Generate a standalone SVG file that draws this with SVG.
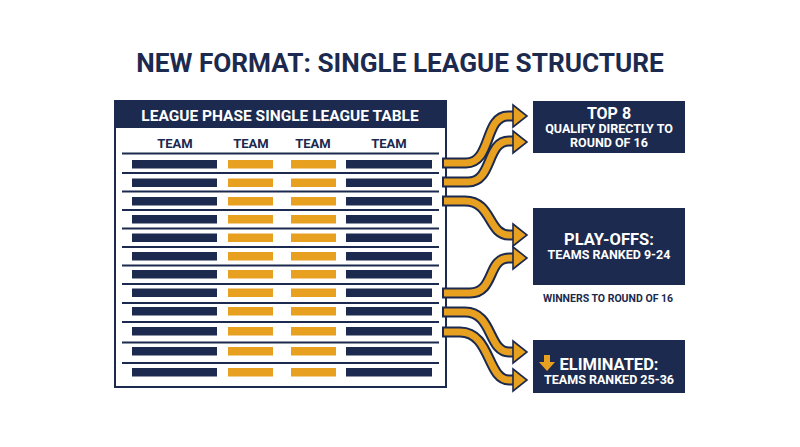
<svg xmlns="http://www.w3.org/2000/svg" width="800" height="447" viewBox="0 0 800 447">
<style>
.navy{fill:#1b2a4e}
.or{fill:#e8a021}
.t{font-family:Roboto,"Liberation Sans",sans-serif;font-weight:bold;text-anchor:middle}
.w{fill:#fff}
.sep{stroke:#1b2a4e;stroke-width:2}
.sh-o{fill:none;stroke:#1b2a4e;stroke-width:11;stroke-linecap:butt}
.sh-i{fill:none;stroke:#e8a021;stroke-width:7;stroke-linecap:butt}
.hd{fill:#e8a021;stroke:#1b2a4e;stroke-width:1.6;stroke-linejoin:miter}
</style>
<defs>
<g id="row">
<rect x="132" y="0" width="85" height="8.5" class="navy"/>
<rect x="228" y="0" width="45" height="8.5" class="or"/>
<rect x="291" y="0" width="45" height="8.5" class="or"/>
<rect x="346" y="0" width="86" height="8.5" class="navy"/>
</g>
</defs>
<rect width="800" height="447" fill="#fff"/>
<text class="t" x="400" y="72" font-size="26.2" fill="#1b2a4e">NEW FORMAT: SINGLE LEAGUE STRUCTURE</text>

<g id="league-table">
<rect x="115" y="101" width="331" height="286" fill="#fff" stroke="#1b2a4e" stroke-width="2"/>
<rect x="115" y="101" width="331" height="27" class="navy"/>
<text class="t w" x="280" y="121" font-size="15.5">LEAGUE PHASE SINGLE LEAGUE TABLE</text>
<text class="t" x="175" y="148" font-size="13" fill="#1b2a4e">TEAM</text>
<text class="t" x="251" y="148" font-size="13" fill="#1b2a4e">TEAM</text>
<text class="t" x="313" y="148" font-size="13" fill="#1b2a4e">TEAM</text>
<text class="t" x="389" y="148" font-size="13" fill="#1b2a4e">TEAM</text>
<g class="sep">
<line x1="122" y1="153.5" x2="439" y2="153.5"/>
<line x1="122" y1="173" x2="439" y2="173"/>
<line x1="122" y1="191.5" x2="439" y2="191.5"/>
<line x1="122" y1="210" x2="439" y2="210"/>
<line x1="122" y1="228.5" x2="439" y2="228.5"/>
<line x1="122" y1="247" x2="439" y2="247"/>
<line x1="122" y1="265.5" x2="439" y2="265.5"/>
<line x1="122" y1="284" x2="439" y2="284"/>
<line x1="122" y1="303" x2="439" y2="303"/>
<line x1="122" y1="322" x2="439" y2="322"/>
<line x1="122" y1="342.5" x2="439" y2="342.5"/>
<line x1="122" y1="363" x2="439" y2="363"/>
</g>
<use href="#row" y="160"/>
<use href="#row" y="178.5"/>
<use href="#row" y="197"/>
<use href="#row" y="215"/>
<use href="#row" y="233.5"/>
<use href="#row" y="252"/>
<use href="#row" y="270"/>
<use href="#row" y="288.5"/>
<use href="#row" y="307"/>
<use href="#row" y="327"/>
<use href="#row" y="347"/>
<use href="#row" y="368"/>
</g>

<g id="connectors">
<path class="sh-o" d="M442,163 L466,163 C492,163 484,116 508,116 L515,116"/>
<path class="sh-o" d="M442,182 L468,182 C493,182 486,141 509,141 L515,141"/>
<path class="sh-o" d="M442,201 L465,201 C492,201 488,235 509,235 L515,235"/>
<path class="sh-o" d="M442,293 L470,293 C495,293 487,258 509,258 L515,258"/>
<path class="sh-o" d="M442,312 L465,312 C493,312 488,352 509,352 L515,352"/>
<path class="sh-o" d="M442,332 L460,332 C491,332 487,380 509,380 L515,380"/>
<path class="sh-i" d="M444,163 L466,163 C492,163 484,116 508,116 L516,116"/>
<path class="sh-i" d="M444,182 L468,182 C493,182 486,141 509,141 L516,141"/>
<path class="sh-i" d="M444,201 L465,201 C492,201 488,235 509,235 L516,235"/>
<path class="sh-i" d="M444,293 L470,293 C495,293 487,258 509,258 L516,258"/>
<path class="sh-i" d="M444,312 L465,312 C493,312 488,352 509,352 L516,352"/>
<path class="sh-i" d="M444,332 L460,332 C491,332 487,380 509,380 L516,380"/>
<polygon class="hd" points="513,105 527,116 513,127"/>
<polygon class="hd" points="513,131 527,142 513,153"/>
<polygon class="hd" points="513,224 527,235 513,246"/>
<polygon class="hd" points="513,247 527,258 513,269"/>
<polygon class="hd" points="513,341 527,352 513,363"/>
<polygon class="hd" points="513,369 527,380 513,391"/>
</g>

<g id="top8">
<rect x="533" y="101" width="152" height="52" class="navy"/>
<text class="t w" x="609" y="118.5" font-size="16">TOP 8</text>
<text class="t w" x="609" y="133" font-size="12.5">QUALIFY DIRECTLY TO</text>
<text class="t w" x="609" y="147" font-size="12.5">ROUND OF 16</text>
</g>

<g id="playoffs">
<rect x="533" y="208" width="152" height="77" class="navy"/>
<text class="t w" x="609" y="244.5" font-size="16.5">PLAY-OFFS:</text>
<text class="t w" x="609" y="259" font-size="12.5">TEAMS RANKED 9-24</text>
</g>
<text class="t" x="608" y="302" font-size="10.5" fill="#1b2a4e">WINNERS TO ROUND OF 16</text>

<g id="eliminated">
<rect x="533" y="340" width="152" height="53" class="navy"/>
<polygon class="or" points="544,355 550,355 550,362 555,362 547,371 539,362 544,362"/>
<text class="t w" x="609" y="369.5" font-size="16.5">ELIMINATED:</text>
<text class="t w" x="609" y="384" font-size="12.5">TEAMS RANKED 25-36</text>
</g>
</svg>
